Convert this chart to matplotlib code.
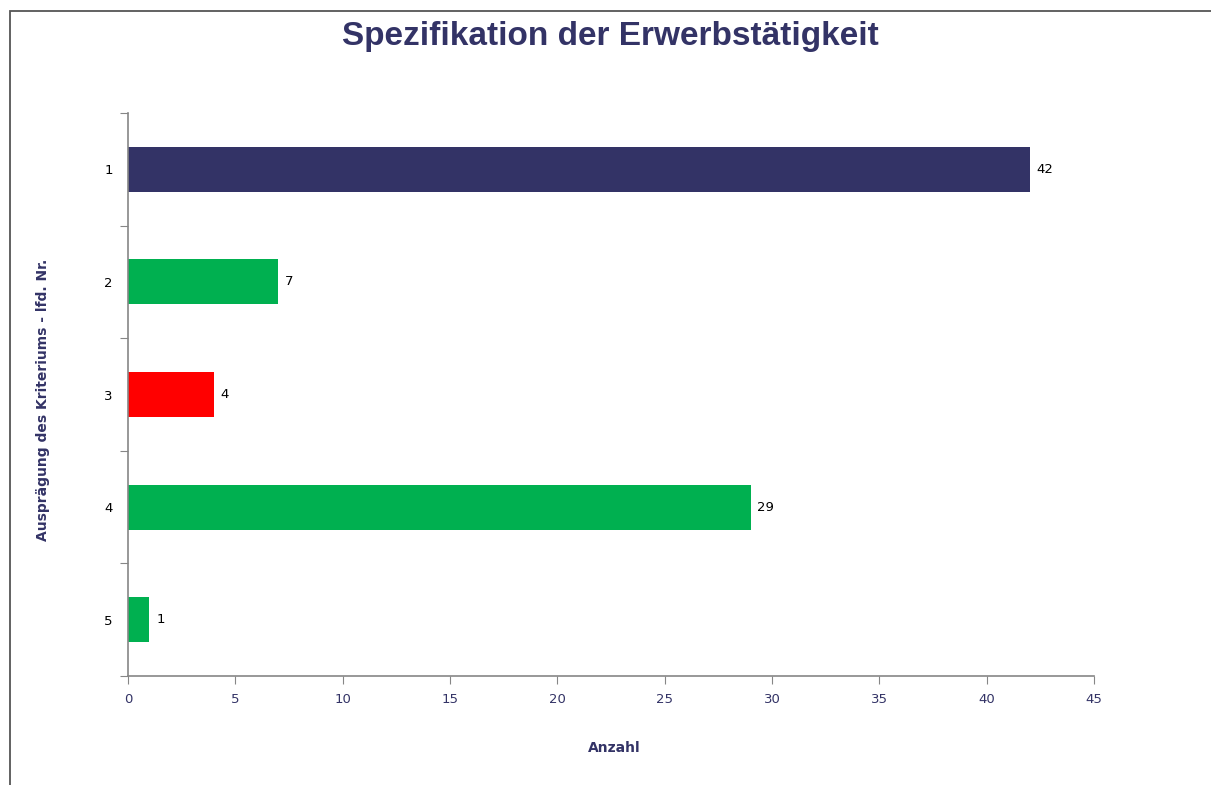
import matplotlib
matplotlib.use("Agg")
import matplotlib.pyplot as plt
from matplotlib.patches import Rectangle

categories = ["1", "2", "3", "4", "5"]
values = [42, 7, 4, 29, 1]
bar_colors = ["#333366", "#00B050", "#FF0000", "#00B050", "#00B050"]
x_ticks = [0, 5, 10, 15, 20, 25, 30, 35, 40, 45]

title = "Spezifikation der Erwerbstätigkeit"
xlabel = "Anzahl"
ylabel = "Ausprägung des Kriteriums - lfd. Nr."

navy = "#333366"
axis_grey = "#868686"

fig = plt.figure(figsize=(12.11, 7.85), dpi=100)
ax = fig.add_axes([128/1211, 1 - 676/785, (1094-128)/1211, (676-113)/785])

ypos = list(range(len(categories)))
ax.barh(ypos, values, height=0.4, color=bar_colors, edgecolor="none", zorder=2)
ax.set_ylim(len(categories) - 0.5, -0.5)
ax.set_xlim(0, 45)

for y, v in zip(ypos, values):
    ax.annotate(str(v), (v, y), xytext=(5, 0), textcoords="offset points",
                va="center", ha="left", fontsize=9.5, color="black",
                family="DejaVu Sans")

ax.set_xticks(x_ticks)
ax.set_xticklabels([str(t) for t in x_ticks], color=navy, fontsize=9.5)
# y: tick marks between categories, labels at centers
ax.set_yticks([i - 0.5 for i in range(len(categories) + 1)])
ax.set_yticklabels([])
ax.set_yticks(ypos, minor=True)
ax.set_yticklabels(categories, minor=True, fontsize=9.5, color="black")
ax.tick_params(axis="y", which="minor", length=0, pad=11)
ax.tick_params(axis="y", which="major", length=6, color=axis_grey, direction="out")
ax.tick_params(axis="x", length=6, color=axis_grey, direction="out", pad=6)

for s in ["top", "right"]:
    ax.spines[s].set_visible(False)
for s in ["left", "bottom"]:
    ax.spines[s].set_color(axis_grey)
    ax.spines[s].set_linewidth(1.2)

fig.text(610/1211, 1 - 36/785, title, ha="center", va="center",
         fontsize=24, fontweight="bold", color=navy, family="Liberation Sans")
fig.text(614/1211, 1 - 748/785, xlabel, ha="center", va="center",
         fontsize=10, fontweight="bold", color=navy)
fig.text(43/1211, 1 - 400/785, ylabel, ha="center", va="center",
         rotation=90, fontsize=10, fontweight="bold", color=navy)

fig.add_artist(Rectangle((10/1211, -0.1), 1.2, 1 - 11/785 + 0.1,
                         transform=fig.transFigure, fill=False,
                         edgecolor="#555555", linewidth=1.3))

fig.savefig("out.png", dpi=100)
